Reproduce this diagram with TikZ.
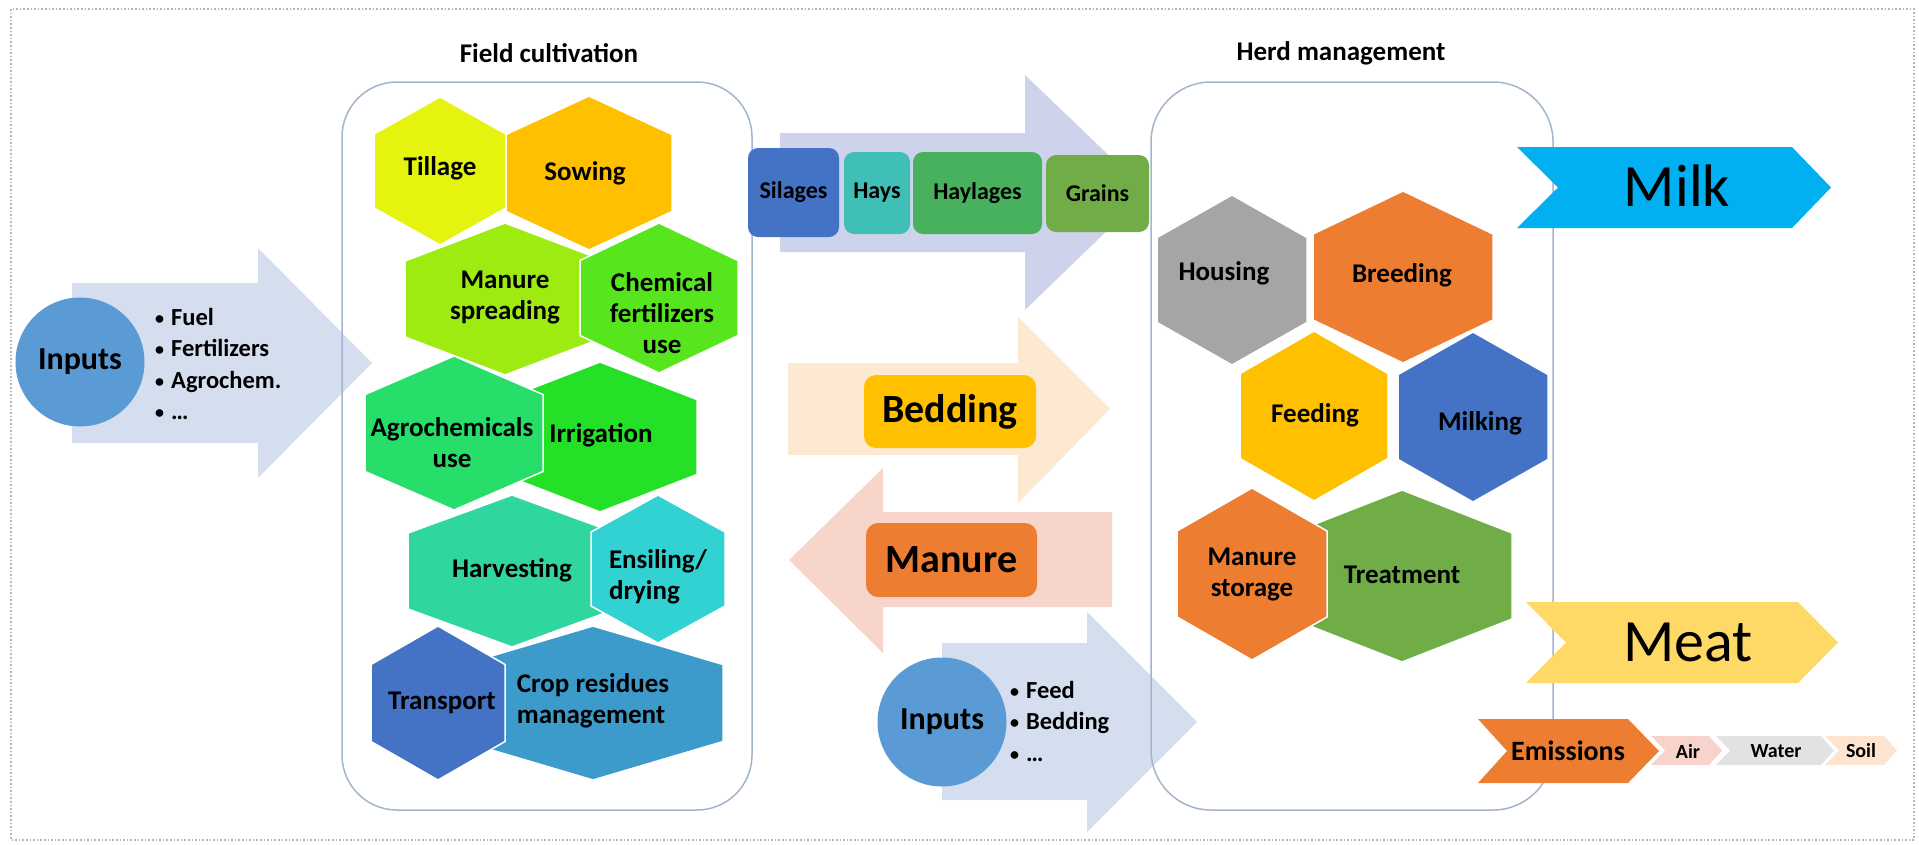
\documentclass[tikz,border=0pt]{standalone}
\usepackage{fontspec}
\setmainfont{Carlito}
\definecolor{frame}{HTML}{A3B5CD}
\definecolor{dotframe}{HTML}{A8B8CC}
\definecolor{inarrow}{HTML}{D5DEEF}
\definecolor{inblue}{HTML}{5B9BD5}
\definecolor{feedarrow}{HTML}{CDD3EA}
\definecolor{bedarrow}{HTML}{FDE8D2}
\definecolor{manarrow}{HTML}{F8D5CB}
\definecolor{cTillage}{HTML}{E4F40E}
\definecolor{cSowing}{HTML}{FFC000}
\definecolor{cManSpread}{HTML}{9EEB12}
\definecolor{cChem}{HTML}{57E61E}
\definecolor{cAgro}{HTML}{28DE6A}
\definecolor{cIrrig}{HTML}{24E128}
\definecolor{cHarv}{HTML}{30D6A0}
\definecolor{cEnsil}{HTML}{33D2D2}
\definecolor{cTransp}{HTML}{4472C4}
\definecolor{cCrop}{HTML}{3C9BCB}
\definecolor{cSilage}{HTML}{4472C4}
\definecolor{cHays}{HTML}{3FBFB6}
\definecolor{cHaylage}{HTML}{48B15D}
\definecolor{cGrain}{HTML}{70AD47}
\definecolor{cGray}{HTML}{A5A5A5}
\definecolor{cOrange}{HTML}{ED7D31}
\definecolor{cGold}{HTML}{FFC000}
\definecolor{cBlue}{HTML}{4472C4}
\definecolor{cGreen}{HTML}{70AD47}
\definecolor{cMilk}{HTML}{00B0F0}
\definecolor{cMeat}{HTML}{FFD966}
\definecolor{cAir}{HTML}{F8D3CB}
\definecolor{cWater}{HTML}{E2E2E2}
\definecolor{cSoil}{HTML}{FCE4D0}

% hexagon with pointed top: centre x, centre y, half width, half height, colour
\newcommand{\hexcell}[5]{%
  \fill[#5, draw=white, line width=1.5pt] (#1,#2) ++(0,{-#4}) -- ++(#3,{#4/2}) -- ++(0,#4)
    -- ++({-#3},{#4/2}) -- ++({-#3},{-#4/2}) -- ++(0,{-#4}) -- cycle;}
% chevron: left, notch x, body end, tip x, top, bottom, colour
\newcommand{\chevron}[7]{%
  \fill[#7] (#1,#5) -- (#3,#5) -- (#4,{(#5+#6)/2}) -- (#3,#6) -- (#1,#6)
    -- (#2,{(#5+#6)/2}) -- cycle;}
% small list bullet
\newcommand{\dotitem}{\raisebox{1pt}{\fontsize{18}{18}\selectfont\textbullet}\hspace{7pt}}

\tikzset{
  hextext/.style={font=\bfseries\fontsize{27}{31}\selectfont, align=center, inner sep=0pt, text=black},
  title/.style={font=\bfseries\fontsize{27}{31}\selectfont, inner sep=0pt},
  feedbox/.style={rounded corners=10pt, inner sep=0pt, font=\bfseries\fontsize{24}{28}\selectfont},
  bigbox/.style={rounded corners=12pt, inner sep=0pt, font=\bfseries\fontsize{40}{44}\selectfont},
  inputcircle/.style={circle, fill=inblue, minimum size=129pt, inner sep=0pt, font=\bfseries\fontsize{32}{36}\selectfont},
  bullets/.style={anchor=west, align=left, inner sep=0pt, font=\bfseries\fontsize{24.5}{31.5}\selectfont},
  product/.style={inner sep=0pt, font=\fontsize{60}{66}\selectfont},
  emis/.style={inner sep=0pt, font=\bfseries\fontsize{28}{32}\selectfont},
  medium/.style={inner sep=0pt, font=\bfseries\fontsize{20}{24}\selectfont},
  panel/.style={draw=frame, line width=1.5pt},
}

\begin{document}
\begin{tikzpicture}[x=1pt,y=-1pt]
\useasboundingbox (0,0) rectangle (1919,844);

% dotted outer frame
\draw[dotframe, line width=1.3pt, dash pattern=on 1.6pt off 2pt] (11,9) rectangle (1914,840);

% block arrows
\fill[inarrow] (72,283) -- (258,283) -- (258,248) -- (372,363) -- (258,478) -- (258,443) -- (72,443) -- cycle;
\fill[feedarrow] (780,133) -- (1025,133) -- (1025,75) -- (1147,192) -- (1025,310) -- (1025,252) -- (780,252) -- cycle;
\fill[bedarrow] (788,363) -- (1018,363) -- (1018,317) -- (1110,409) -- (1018,503) -- (1018,455) -- (788,455) -- cycle;
\fill[manarrow] (1112,512) -- (883,512) -- (883,468) -- (789,560) -- (883,653) -- (883,607) -- (1112,607) -- cycle;
\fill[inarrow] (942,643) -- (1087,643) -- (1087,612) -- (1197,722) -- (1087,832) -- (1087,800) -- (942,800) -- cycle;

% the two panels
\draw[panel, rounded corners=55pt] (342,82) rectangle (752,810);
\draw[panel, rounded corners=60pt] (1151,82) rectangle (1553,810);
\node[title] (fieldtitle) at (549,53) {Field cultivation};
\node[title] (herdtitle) at (1341,53) {Herd management};

% field cultivation hexagons
\hexcell{440}{171}{66}{74}{cTillage}
\hexcell{589}{173}{83}{77}{cSowing}
\hexcell{505}{299}{100}{76}{cManSpread}
\hexcell{659}{298}{79}{75}{cChem}
\hexcell{600}{437}{97}{75}{cIrrig}
\hexcell{454}{433}{89}{77}{cAgro}
\hexcell{512}{571}{104}{76}{cHarv}
\hexcell{658}{569}{67}{74}{cEnsil}
\hexcell{593}{703}{130}{77}{cCrop}
\hexcell{438}{703}{67}{77}{cTransp}
\node[hextext] (tillage) at (440,168) {Tillage};
\node[hextext] (sowing) at (585,173) {Sowing};
\node[hextext] (manspread) at (505,298) {Manure\\spreading};
\node[hextext] (chem) at (662,313) {Chemical\\fertilizers\\use};
\node[hextext] (agro) at (452,443) {Agrochemicals\\use};
\node[hextext] (irrig) at (601,435) {Irrigation};
\node[hextext] (harv) at (512,570) {Harvesting};
\node[hextext, align=left] (ensil) at (658,577) {Ensiling/\\drying};
\node[hextext] (transp) at (442,703) {Transport};
\node[hextext, align=left] (crop) at (593,701) {Crop residues\\management};

% herd management hexagons
\hexcell{1232}{280}{75}{85}{cGray}
\hexcell{1403}{277}{90}{86}{cOrange}
\hexcell{1314}{416}{74}{85}{cGold}
\hexcell{1473}{417}{75}{85}{cBlue}
\hexcell{1402}{576}{110}{86}{cGreen}
\hexcell{1252}{574}{75}{86}{cOrange}
\node[hextext] (housing) at (1224,273) {Housing};
\node[hextext] (breeding) at (1402,275) {Breeding};
\node[hextext] (feeding) at (1315,415) {Feeding};
\node[hextext] (milking) at (1480,423) {Milking};
\node[hextext] (treatment) at (1402,575) {Treatment};
\node[hextext] (manstore) at (1252,575) {Manure\\storage};

% feed products
\node[feedbox, fill=cSilage, minimum width=91pt, minimum height=89pt] (silages) at (793.5,192.5) {Silages};
\node[feedbox, fill=cHays, minimum width=66pt, minimum height=82pt] (hays) at (877,193) {Hays};
\node[feedbox, fill=cHaylage, minimum width=129pt, minimum height=82pt] (haylages) at (977.5,193) {Haylages};
\node[feedbox, fill=cGrain, minimum width=103pt, minimum height=77pt] (grains) at (1097.5,193.5) {Grains};

% bedding and manure flows
\node[bigbox, fill=cGold, minimum width=172pt, minimum height=73pt] (bedding) at (950,411.5) {Bedding};
\node[bigbox, fill=cOrange, minimum width=171pt, minimum height=74pt] (manure) at (951.5,560) {Manure};

% inputs
\node[inputcircle] (inputsA) at (80,362) {Inputs};
\node[bullets] (listA) at (155,364) {\dotitem Fuel\\\dotitem Fertilizers\\\dotitem Agrochem.\\\dotitem …};
\node[inputcircle] (inputsB) at (942,722) {Inputs};
\node[bullets] (listB) at (1010,721) {\dotitem Feed\\\dotitem Bedding\\\dotitem …};

% outputs
\chevron{1517}{1558}{1792}{1831}{147}{228}{cMilk}
\node[product] (milk) at (1677,186) {Milk};
\chevron{1526}{1566}{1798}{1838}{602}{683}{cMeat}
\node[product] (meat) at (1688,642) {Meat};

% emissions
\chevron{1825}{1839}{1884}{1897}{736}{765}{cSoil}
\chevron{1716}{1730}{1821}{1834}{736}{765}{cWater}
\chevron{1651}{1665}{1709}{1722}{736}{765}{cAir}
\chevron{1478}{1507}{1628}{1659}{719}{783}{cOrange}
\node[emis] (emissions) at (1568,751) {Emissions};
\node[medium] (air) at (1688,751) {Air};
\node[medium] (water) at (1776,751) {Water};
\node[medium] (soil) at (1861,751) {Soil};
\end{tikzpicture}
\end{document}
